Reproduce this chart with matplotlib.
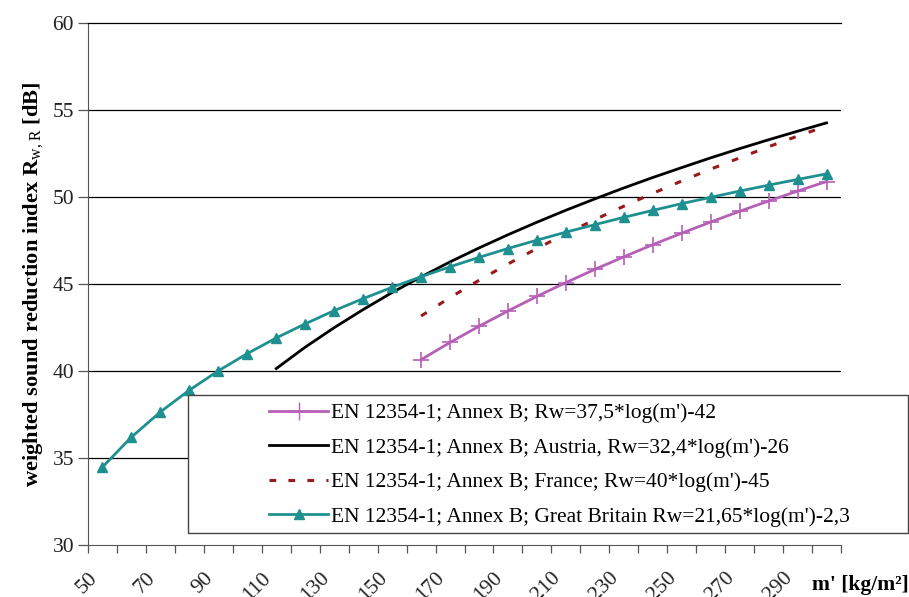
import matplotlib
matplotlib.use("Agg")
import matplotlib.pyplot as plt
from matplotlib.patches import Rectangle
from matplotlib.lines import Line2D

plt.rcParams["font.family"] = ["Liberation Serif", "DejaVu Serif"]
plt.rcParams["mathtext.fontset"] = "custom"
plt.rcParams["mathtext.rm"] = "Liberation Serif"

# Mass per unit area categories (kg/m²), one category every 10 kg/m²
m_values = [50, 60, 70, 80, 90, 100, 110, 120, 130, 140, 150, 160, 170,
            180, 190, 200, 210, 220, 230, 240, 250, 260, 270, 280, 290, 300]

# EN 12354-1 Annex B, general (starts at 160)
en_m = [160, 170, 180, 190, 200, 210, 220, 230, 240, 250, 260, 270, 280, 290, 300]
en_rw = [40.65, 41.64, 42.57, 43.45, 44.29, 45.08, 45.84, 46.56, 47.26, 47.92,
         48.56, 49.18, 49.77, 50.34, 50.89]

# Austria (starts at 110)
at_m = [110, 120, 130, 140, 150, 160, 170, 180, 190, 200, 210, 220, 230, 240,
        250, 260, 270, 280, 290, 300]
at_rw = [40.14, 41.37, 42.49, 43.53, 44.51, 45.41, 46.27, 47.07, 47.83, 48.55,
         49.24, 49.89, 50.52, 51.12, 51.69, 52.25, 52.78, 53.29, 53.78, 54.26]

# France (starts at 160)
fr_m = [160, 170, 180, 190, 200, 210, 220, 230, 240, 250, 260, 270, 280, 290, 300]
fr_rw = [43.16, 44.22, 45.21, 46.15, 47.04, 47.89, 48.70, 49.47, 50.21, 50.92,
         51.60, 52.25, 52.89, 53.50, 54.08]

# Great Britain (full range)
gb_m = m_values
gb_rw = [34.48, 36.20, 37.65, 38.90, 40.01, 41.00, 41.90, 42.71, 43.47, 44.16,
         44.81, 45.42, 45.99, 46.53, 47.04, 47.52, 47.98, 48.41, 48.83, 49.23,
         49.62, 49.98, 50.34, 50.68, 51.01, 51.33]

labels = [
    "EN 12354-1; Annex B; Rw=37,5*log(m')-42",
    "EN 12354-1; Annex B; Austria, Rw=32,4*log(m')-26",
    "EN 12354-1; Annex B; France; Rw=40*log(m')-45",
    "EN 12354-1; Annex B; Great Britain Rw=21,65*log(m')-2,3",
]

PINK = "#b65fb6"
TEAL = "#1f9090"
DARKRED = "#981a1a"
FS = 15.5

W, H = 909, 597
fig = plt.figure(figsize=(W / 100, H / 100), dpi=100)
ax = fig.add_axes([88 / W, 1 - 545 / H, (841 - 88) / W, (545 - 23) / H])


def cat_pos(ms):
    return [m_values.index(m) for m in ms]


ax.plot(cat_pos(en_m), en_rw, color=PINK, lw=2.0, marker="+", ms=11, mew=1.2,
        zorder=3)
ax.plot(cat_pos(at_m), at_rw, color="black", lw=2.0, zorder=3)
ax.plot(cat_pos(fr_m), fr_rw, color=DARKRED, lw=2.2, ls=(0, (2.2, 4.5)),
        zorder=3)
ax.plot(cat_pos(gb_m), gb_rw, color=TEAL, lw=2.0, marker="^", ms=7, zorder=3)

ax.set_xlim(-0.5, len(m_values) - 0.5)
ax.set_ylim(30, 60)
ax.set_yticks([30, 35, 40, 45, 50, 55, 60])
for y in [35, 40, 45, 50, 55]:
    ax.axhline(y, color="black", lw=0.9, zorder=1)

# ticks on category boundaries, every second one labelled
boundaries = [k - 0.5 for k in range(len(m_values) + 1)]
tick_labels = [str(m) if k % 2 == 0 else "" for k, m in enumerate(m_values)] + [""]
ax.set_xticks(boundaries)
ax.set_xticklabels(tick_labels, rotation=45, ha="right", rotation_mode="anchor")

ax.spines["right"].set_visible(False)
ax.spines["top"].set_color("black")
ax.spines["top"].set_linewidth(0.9)
ax.spines["left"].set_color("#555555")
ax.spines["bottom"].set_color("#555555")
ax.tick_params(axis="y", length=7, width=0.9, color="#555555", labelsize=FS,
               pad=3, labelcolor="#222222")
ax.tick_params(axis="x", length=6, width=0.9, color="#555555", labelsize=FS,
               pad=11, labelcolor="#222222")

ax.set_ylabel(r"weighted sound reduction index R$_{\mathrm{w,R}}$ [dB]",
              fontsize=16.2, fontweight="bold", labelpad=5)
fig.text(812 / W, 1 - 585 / H, "m' [kg/m²]", fontsize=FS, fontweight="bold",
         ha="left", va="center")

# legend frame sits partly outside the axes
box = Rectangle((188 / W, 1 - 533 / H), (908 - 188) / W, (533 - 395) / H,
                transform=fig.transFigure, facecolor="white",
                edgecolor="#444444", lw=1.0, zorder=4)
fig.patches.append(box)

handles = [
    Line2D([], [], color=PINK, lw=2.0, marker="+", ms=13, mew=1.0),
    Line2D([], [], color="black", lw=2.0),
    Line2D([], [], color=DARKRED, lw=2.2, ls=(0, (2.2, 4.0))),
    Line2D([], [], color=TEAL, lw=2.0, marker="^", ms=7),
]
fig.legend(handles, labels, loc="upper left",
           bbox_to_anchor=(269 / W, 1 - 403 / H), bbox_transform=fig.transFigure,
           frameon=False, fontsize=FS, handlelength=2.75, handletextpad=0.14,
           labelspacing=0.67, borderpad=0, borderaxespad=0, numpoints=1)

fig.savefig("out.png", dpi=100)
